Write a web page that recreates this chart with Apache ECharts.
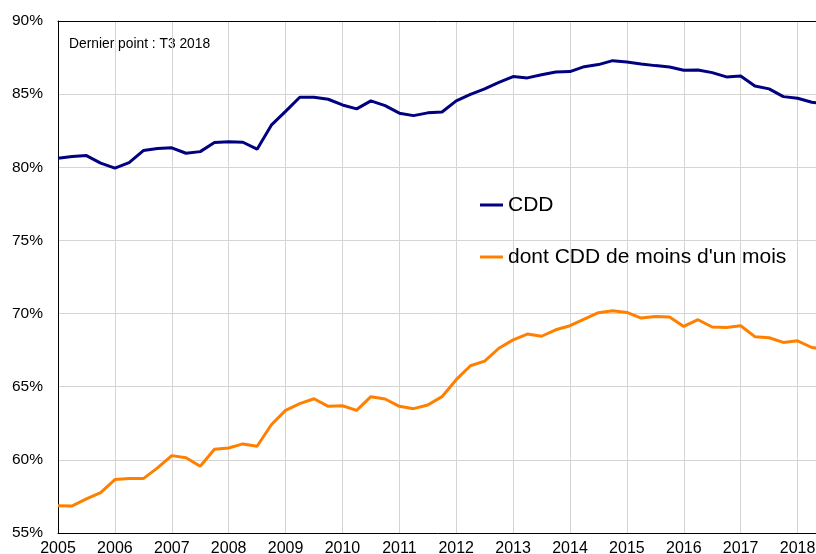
<!DOCTYPE html>
<html><head><meta charset="utf-8">
<script src="https://cdn.jsdelivr.net/npm/echarts@6/dist/echarts.min.js"></script>
<style>html,body{margin:0;padding:0;background:#fff}#c{width:816px;height:554px}</style>
</head><body><div id="c"></div>
<script>
const quarters = [
  'T1 2005','T2 2005','T3 2005','T4 2005',
  'T1 2006','T2 2006','T3 2006','T4 2006',
  'T1 2007','T2 2007','T3 2007','T4 2007',
  'T1 2008','T2 2008','T3 2008','T4 2008',
  'T1 2009','T2 2009','T3 2009','T4 2009',
  'T1 2010','T2 2010','T3 2010','T4 2010',
  'T1 2011','T2 2011','T3 2011','T4 2011',
  'T1 2012','T2 2012','T3 2012','T4 2012',
  'T1 2013','T2 2013','T3 2013','T4 2013',
  'T1 2014','T2 2014','T3 2014','T4 2014',
  'T1 2015','T2 2015','T3 2015','T4 2015',
  'T1 2016','T2 2016','T3 2016','T4 2016',
  'T1 2017','T2 2017','T3 2017','T4 2017',
  'T1 2018','T2 2018','T3 2018'
];
const cdd = [
  80.62, 80.73, 80.80, 80.28,
  79.94, 80.32, 81.14, 81.28,
  81.33, 80.96, 81.07, 81.69,
  81.74, 81.71, 81.24, 82.88,
  83.82, 84.79, 84.79, 84.65,
  84.26, 83.99, 84.54, 84.22,
  83.70, 83.53, 83.72, 83.78,
  84.54, 84.99, 85.36, 85.81,
  86.20, 86.11, 86.33, 86.52,
  86.54, 86.88, 87.02, 87.29,
  87.20, 87.06, 86.95, 86.86,
  86.63, 86.65, 86.47, 86.18,
  86.24, 85.56, 85.36, 84.83,
  84.72, 84.45, 84.30
];
const cddMoinsUnMois = [
  56.87, 56.85, 57.33, 57.76,
  58.65, 58.72, 58.72, 59.45,
  60.29, 60.15, 59.56, 60.72,
  60.81, 61.09, 60.93, 62.40,
  63.38, 63.84, 64.18, 63.66,
  63.70, 63.38, 64.32, 64.16,
  63.66, 63.50, 63.75, 64.32,
  65.48, 66.43, 66.75, 67.63,
  68.20, 68.60, 68.45, 68.89,
  69.17, 69.62, 70.06, 70.19,
  70.08, 69.69, 69.80, 69.76,
  69.12, 69.58, 69.08, 69.05,
  69.17, 68.42, 68.35, 68.03,
  68.14, 67.68, 67.55
];
const yearLabels = ['2005','2006','2007','2008','2009','2010','2011','2012','2013','2014','2015','2016','2017','2018'];
const seriesNames = ['CDD', "dont CDD de moins d'un mois"];
const note = 'Dernier point : T3 2018';

const FONT = '"Liberation Sans", Arial, sans-serif';
const isYearStart = (i) => i % 4 === 0;

const chart = echarts.init(document.getElementById('c'), null, {renderer: 'canvas'});
chart.setOption({
  animation: false,
  backgroundColor: '#fff',
  grid: {left: 58, right: -10, top: 21, bottom: 21, containLabel: false, outerBoundsMode: 'none'},
  legend: {
    data: seriesNames,
    orient: 'vertical',
    left: 480, top: 194,
    padding: 0,
    icon: 'rect',
    itemWidth: 23, itemHeight: 3, itemGap: 30,
    textStyle: {fontFamily: FONT, fontSize: 21, color: '#000', lineHeight: 22},
    selectedMode: false
  },
  graphic: [{
    type: 'text', left: 69, top: 37,
    style: {text: note, font: '13.8px ' + FONT, fill: '#000'}
  }],
  xAxis: [{
    type: 'category',
    data: quarters,
    boundaryGap: false,
    axisLine: {show: true, lineStyle: {color: '#000', width: 1}},
    axisTick: {show: false},
    axisLabel: {
      interval: isYearStart,
      formatter: (v, i) => yearLabels[Math.floor(i / 4)],
      fontFamily: FONT, fontSize: 16, color: '#000', margin: 8
    },
    splitLine: {show: true, interval: isYearStart, lineStyle: {color: '#d4d4d4', width: 1}}
  }, {
    type: 'category',
    data: quarters,
    position: 'top',
    boundaryGap: false,
    axisLine: {show: true, lineStyle: {color: '#000', width: 1}},
    axisTick: {show: false},
    axisLabel: {show: false},
    splitLine: {show: false}
  }],
  yAxis: {
    type: 'value',
    min: 55, max: 90, interval: 5,
    axisLine: {show: true, lineStyle: {color: '#000', width: 1}},
    axisTick: {show: false},
    axisLabel: {formatter: '{value}%', fontFamily: FONT, fontSize: 15.5, color: '#000', margin: 15},
    splitLine: {show: true, lineStyle: {color: '#d4d4d4', width: 1}}
  },
  series: [{
    name: seriesNames[0], type: 'line', data: cdd, xAxisIndex: 0,
    symbol: 'none', lineStyle: {color: '#000080', width: 3}, itemStyle: {color: '#000080'}
  }, {
    name: seriesNames[1], type: 'line', data: cddMoinsUnMois, xAxisIndex: 0,
    symbol: 'none', lineStyle: {color: '#FF8000', width: 3}, itemStyle: {color: '#FF8000'}
  }]
});
</script></body></html>
